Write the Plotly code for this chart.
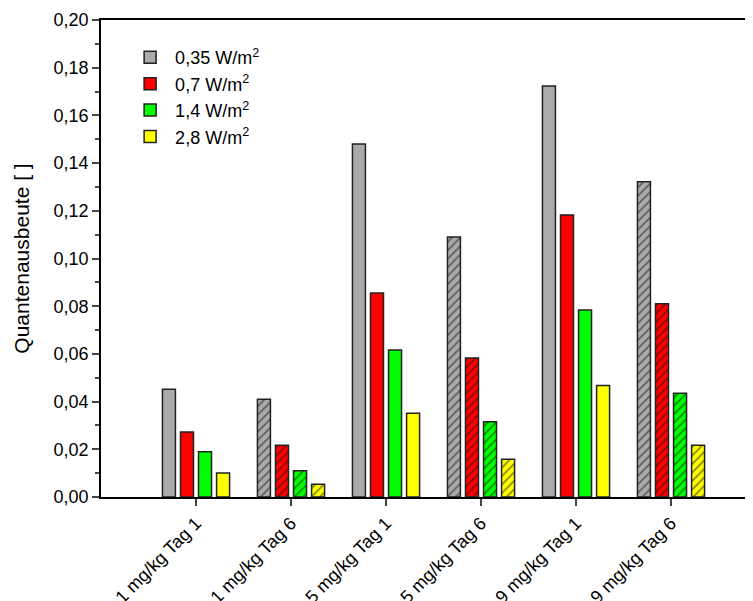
import plotly.graph_objects as go

categories = ["1 mg/kg Tag 1", "1 mg/kg Tag 6", "5 mg/kg Tag 1",
              "5 mg/kg Tag 6", "9 mg/kg Tag 1", "9 mg/kg Tag 6"]
series_names = ["0,35 W/m<sup>2</sup>", "0,7 W/m<sup>2</sup>",
                "1,4 W/m<sup>2</sup>", "2,8 W/m<sup>2</sup>"]
v_035 = [0.0452, 0.0410, 0.1480, 0.1090, 0.1723, 0.1322]
v_07 = [0.0273, 0.0217, 0.0855, 0.0583, 0.1182, 0.0810]
v_14 = [0.0190, 0.0110, 0.0616, 0.0316, 0.0784, 0.0435]
v_28 = [0.0101, 0.0053, 0.0351, 0.0158, 0.0467, 0.0217]
colors = ["#aaaaaa", "#ff0000", "#00ff00", "#ffff00"]
hatch = ["", "/", "", "/", "", "/"]

x_idx = list(range(len(categories)))

fig = go.Figure()
for name, vals, col in zip(series_names, [v_035, v_07, v_14, v_28], colors):
    fig.add_trace(go.Bar(
        x=x_idx, y=vals, name=name,
        marker=dict(color=col, line=dict(color="#222222", width=1.5),
                    pattern=dict(shape=hatch, fgcolor="#111111", bgcolor=col,
                                 size=6, solidity=0.3, fillmode="overlay")),
    ))

fig.update_layout(
    width=745, height=593,
    margin=dict(l=93, r=0, t=12, b=104),
    paper_bgcolor="white", plot_bgcolor="white",
    barmode="group", bargap=0.24, bargroupgap=0.28,
    separators=",.",
    font=dict(family="Liberation Sans, Arial, sans-serif", size=18, color="black"),
    legend=dict(x=0.037, y=0.96, xanchor="left", yanchor="top",
                bgcolor="rgba(0,0,0,0)", font=dict(size=18),
                itemwidth=40, tracegroupgap=4),
    xaxis=dict(range=[-1, 5.863], tickmode="array", tickvals=x_idx,
               ticktext=categories, tickangle=-45, ticks="outside",
               ticklen=7, tickwidth=1.5, showline=True, linecolor="black",
               linewidth=1.5, mirror=True, showgrid=False, zeroline=False,
               automargin=False, tickfont=dict(size=18)),
    yaxis=dict(range=[0, 0.2], dtick=0.02, tickformat=".2f", ticks="outside",
               ticklen=7, tickwidth=1.5, showline=True, linecolor="black",
               linewidth=1.5, showgrid=False, zeroline=False, automargin=False,
               minor=dict(dtick=0.01, ticks="outside", ticklen=4, tickwidth=1.5),
               title=dict(text="Quantenausbeute [ ]", font=dict(size=21), standoff=18),
               tickfont=dict(size=18)),
)

fig.write_html("out.html")
